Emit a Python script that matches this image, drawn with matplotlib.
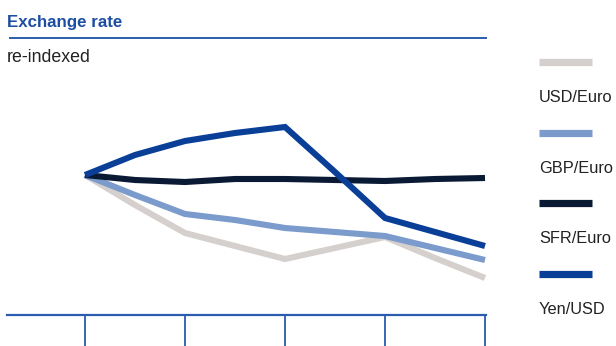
import matplotlib
matplotlib.use("Agg")
import matplotlib.pyplot as plt
from matplotlib.lines import Line2D

plt.rcParams['font.family'] = ['Liberation Sans', 'DejaVu Sans']

# quarterly observations, index = 100 at the start
quarters = [0, 1, 2, 3, 4, 5, 6, 7, 8]
usd_euro = [100, 94.0, 88.4, 85.8, 83.2, 85.4, 87.6, 83.4, 79.4]
gbp_euro = [100, 96.0, 92.2, 91.0, 89.4, 88.6, 87.8, 85.4, 83.0]
sfr_euro = [100, 99.0, 98.6, 99.2, 99.2, 99.0, 98.8, 99.2, 99.4]
yen_usd = [100, 104.0, 106.8, 108.4, 109.6, 100.6, 91.4, 88.6, 85.8]

series_names = ['USD/Euro', 'GBP/Euro', 'SFR/Euro', 'Yen/USD']
series_values = [usd_euro, gbp_euro, sfr_euro, yen_usd]
series_colors = ['#d5d0cd', '#7b9bcc', '#0b1a34', '#0a3f98']

section_edges = [0, 2, 4, 6, 8]

BLUE = '#2b5cae'
W, H = 616, 346

fig = plt.figure(figsize=(W / 100, H / 100), dpi=100)


def fx(px):
    return px / W


def fy(py):
    return 1 - py / H


ax = fig.add_axes([fx(7), fy(315), fx(486) - fx(7), fy(70) - fy(315)])
for vals, col in zip(series_values, series_colors):
    ax.plot(quarters, vals, color=col, lw=4.4, solid_joinstyle='miter',
            solid_capstyle='butt')

ax.set_xlim(-1.56, 8.02)
ax.set_ylim(72, 121)
for side in ['left', 'right', 'top']:
    ax.spines[side].set_visible(False)
ax.spines['bottom'].set_color(BLUE)
ax.spines['bottom'].set_linewidth(1.6)
ax.set_yticks([])
ax.set_xticks(section_edges)
ax.tick_params(axis='x', direction='out', length=30, width=1.3, color=BLUE,
               labelbottom=False)

# heading block
fig.text(fx(7), fy(27), 'Exchange rate', fontsize=12.2, fontweight='bold',
         color='#1d4ea2', va='baseline', ha='left')
fig.add_artist(Line2D([fx(10), fx(486)], [fy(38), fy(38)],
                      transform=fig.transFigure, color=BLUE, lw=1.4))
fig.text(fx(7), fy(62), 're-indexed', fontsize=12.8, color='#222222',
         va='baseline', ha='left')

# legend: swatch above its label
for i, (name, col) in enumerate(zip(series_names, series_colors)):
    y0 = 62 + i * 70.7
    fig.add_artist(Line2D([fx(539), fx(592)], [fy(y0), fy(y0)],
                          transform=fig.transFigure, color=col, lw=5.2,
                          solid_capstyle='butt'))
    fig.text(fx(539), fy(y0 + 40), name, fontsize=11.8, color='#222222',
             va='baseline', ha='left')

fig.savefig('out.png', dpi=100)
